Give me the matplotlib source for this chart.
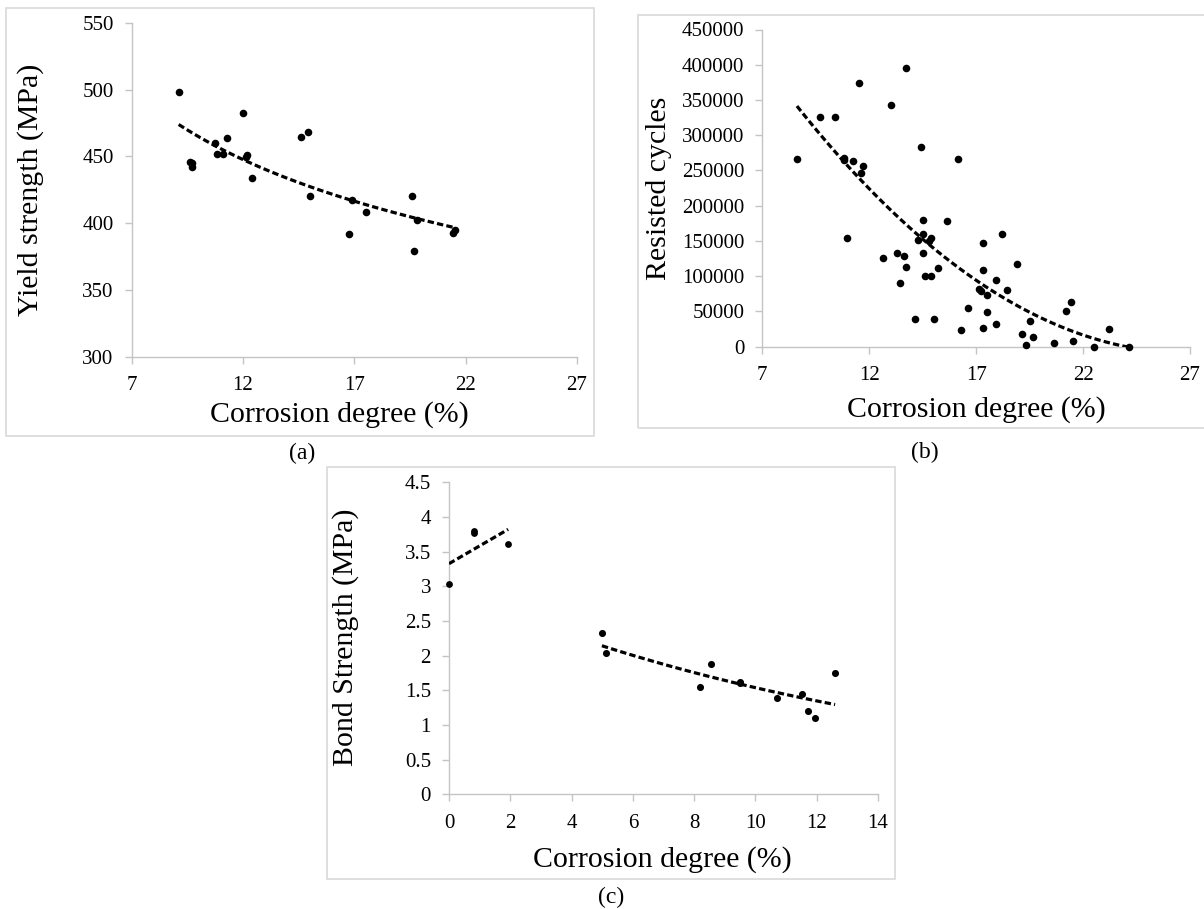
import numpy as np
import matplotlib
matplotlib.use('Agg')
import matplotlib.pyplot as plt
from matplotlib.patches import Rectangle
from matplotlib.ticker import FuncFormatter

plt.rcParams['font.family'] = ['Liberation Serif', 'DejaVu Serif']

W, H = 1204, 909

# (a) yield strength vs corrosion degree
corr_a = [9.11, 9.61, 9.70, 9.70, 10.73, 10.81, 11.12, 11.30, 11.98, 12.19, 12.15,
          12.40, 14.61, 14.90, 15.02, 16.78, 16.90, 17.52, 19.61, 19.70, 19.80, 21.43, 21.50]
yield_a = [498.5, 446, 445, 441.8, 460, 451.7, 451.7, 464, 482.8, 451, 449.8,
           433.6, 464.7, 468.4, 420.1, 392, 417, 408, 420.1, 379, 402.2, 392.5, 394.5]

# (b) resisted cycles vs corrosion degree
corr_b = [8.62, 9.71, 10.41, 10.81, 10.81, 10.94, 11.22, 11.51, 11.62, 11.73, 12.63,
          13.01, 13.30, 13.43, 13.62, 13.70, 13.71, 14.13, 14.29, 14.42, 14.51, 14.51,
          14.51, 14.62, 14.78, 14.91, 14.91, 15.01, 15.21, 15.63, 16.13, 16.30, 16.64,
          17.13, 17.25, 17.31, 17.31, 17.31, 17.51, 17.51, 17.92, 17.92, 18.21, 18.43,
          18.91, 19.13, 19.33, 19.53, 19.64, 20.63, 21.22, 21.42, 21.53, 22.52, 23.23, 24.15]
cycles_b = [265600, 325200, 325200, 268000, 264700, 153600, 263800, 373400, 245800, 256200, 126200,
            342700, 132400, 90300, 128600, 395600, 112500, 39700, 151300, 283100, 179100, 160200,
            132400, 99700, 149400, 154600, 99700, 38800, 111100, 177700, 266600, 23600, 54800,
            82200, 79400, 146500, 109200, 26900, 72800, 48700, 95000, 32600, 159800, 79900,
            117200, 18000, 2400, 36900, 13700, 5700, 51000, 63800, 8000, 0, 24600, 0]

# (c) bond strength vs corrosion degree, two groups
corr_c1 = [0.0, 0.81, 0.81, 1.93]
bond_c1 = [3.034, 3.803, 3.769, 3.61]
corr_c2 = [4.99, 5.12, 8.18, 8.56, 9.51, 9.51, 10.72, 11.52, 11.71, 11.95, 12.60]
bond_c2 = [2.322, 2.043, 1.548, 1.875, 1.615, 1.605, 1.394, 1.442, 1.197, 1.096, 1.755]


def fx(x):
    return x / W


def fy(y):
    return 1 - y / H


def add_axes(l, t, r, b):
    return fig.add_axes([fx(l), fy(b), fx(r) - fx(l), fy(t) - fy(b)])


def style(ax, xlim, xticks, ylim, yticks):
    ax.set_xlim(xlim)
    ax.set_ylim(ylim)
    ax.set_xticks(xticks)
    ax.set_yticks(yticks)
    ax.yaxis.set_major_formatter(FuncFormatter(lambda v, p: f'{v:g}'))
    for s in ['top', 'right']:
        ax.spines[s].set_visible(False)
    for s in ['left', 'bottom']:
        ax.spines[s].set_color('#c4c4c4')
        ax.spines[s].set_linewidth(1.0)
    ax.tick_params(direction='out', length=5, width=1.0, color='#c4c4c4',
                   labelsize=15, labelcolor='black')
    ax.tick_params(axis='y', pad=8)
    ax.tick_params(axis='x', pad=9)
    ax.patch.set_alpha(0)


def trend(ax, x, y):
    ax.plot(x, y, color='black', lw=2.3, dashes=(2.0, 1.0), zorder=3)


def dots(ax, x, y, s=30):
    ax.scatter(x, y, s=s, color='black', zorder=4, clip_on=False, linewidths=0)


fig = plt.figure(figsize=(W / 100, H / 100), dpi=100)

# panel frames
for (l, t, r, b) in [(5.7, 8.3, 594, 435.7), (637.5, 14.5, 1210, 428.3), (326.7, 467.3, 895.3, 879)]:
    fig.patches.append(Rectangle((fx(l), fy(b)), fx(r) - fx(l), fy(t) - fy(b),
                                 transform=fig.transFigure, fill=False,
                                 edgecolor='#d9d9d9', lw=1.2))

# (a)
ax_a = add_axes(131.7, 23, 577, 356.5)
style(ax_a, (7, 27), range(7, 28, 5), (300, 550), range(300, 551, 50))
dots(ax_a, corr_a, yield_a)
pa = np.polyfit(np.log(corr_a), np.log(yield_a), 1)
xs = np.linspace(min(corr_a), max(corr_a), 100)
trend(ax_a, xs, np.exp(np.polyval(pa, np.log(xs))))

# (b)
ax_b = add_axes(762.3, 29.5, 1190, 346.7)
style(ax_b, (7, 27), range(7, 28, 5), (0, 450000), range(0, 450001, 50000))
dots(ax_b, corr_b, cycles_b)
pb = np.polyfit(corr_b, cycles_b, 2)
xs = np.linspace(min(corr_b), max(corr_b), 100)
trend(ax_b, xs, np.polyval(pb, xs))

# (c)
ax_c = add_axes(449, 482.3, 878, 794.3)
style(ax_c, (0, 14), range(0, 15, 2), (0, 4.5), np.arange(0, 4.51, 0.5))
dots(ax_c, corr_c1, bond_c1, s=24)
dots(ax_c, corr_c2, bond_c2, s=26)
p1 = np.polyfit(corr_c1, bond_c1, 1)
xs = np.linspace(min(corr_c1), max(corr_c1), 50)
trend(ax_c, xs, np.polyval(p1, xs))
p2 = np.polyfit(corr_c2, np.log(bond_c2), 1)
xs = np.linspace(min(corr_c2), max(corr_c2), 100)
trend(ax_c, xs, np.exp(np.polyval(p2, xs)))

# labels
lab = 21.5
fig.text(fx(339), fy(415), 'Corrosion degree (%)', fontsize=lab, ha='center', va='center')
fig.text(fx(976), fy(410), 'Corrosion degree (%)', fontsize=lab, ha='center', va='center')
fig.text(fx(662.5), fy(860), 'Corrosion degree (%)', fontsize=lab, ha='center', va='center')
fig.text(fx(31), fy(190), 'Yield strength (MPa)', fontsize=lab, ha='center', va='center', rotation=90)
fig.text(fx(659), fy(188), 'Resisted cycles', fontsize=lab, ha='center', va='center', rotation=90)
fig.text(fx(346), fy(637.5), 'Bond Strength (MPa)', fontsize=lab, ha='center', va='center', rotation=90)
fig.text(fx(302), fy(453), '(a)', fontsize=17, ha='center', va='center')
fig.text(fx(925), fy(452), '(b)', fontsize=17, ha='center', va='center')
fig.text(fx(611), fy(897), '(c)', fontsize=17, ha='center', va='center')

fig.savefig('out.png', dpi=100)
